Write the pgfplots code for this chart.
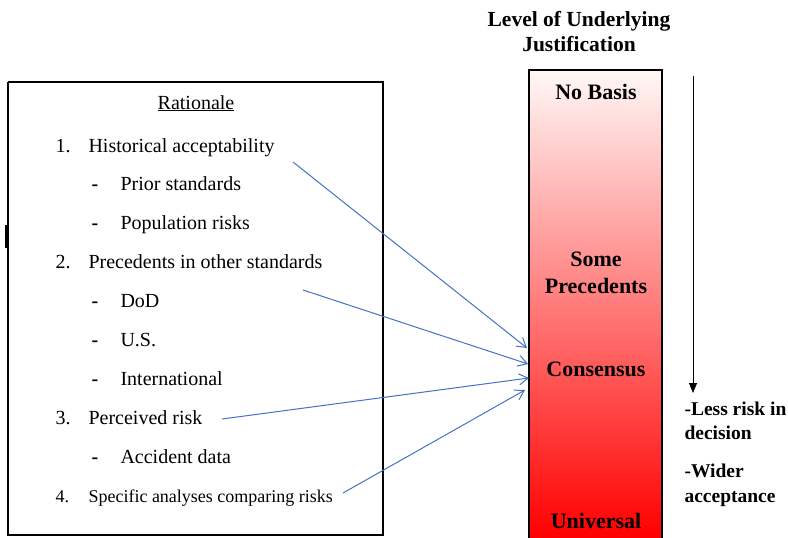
\documentclass[border=0pt]{standalone}
\usepackage{pgfplots}
\pgfplotsset{compat=1.18}
\usetikzlibrary{arrows.meta}
\usepackage{fontspec}
\setmainfont{Liberation Serif}
\definecolor{arrowblue}{RGB}{68,114,196}
\definecolor{topwhite}{RGB}{255,248,246}
\newcommand{\rg}{\fontsize{20}{24}\selectfont}
\newcommand{\sm}{\fontsize{18}{22}\selectfont}
\newcommand{\bd}{\fontsize{21.5}{24}\selectfont\bfseries}
\newcommand{\bb}{\fontsize{22}{24}\selectfont\bfseries}
\newcommand{\bs}{\fontsize{19.5}{24}\selectfont\bfseries}
\begin{document}
\begin{tikzpicture}
\begin{axis}[
  width=788pt, height=538pt, scale only axis,
  xmin=0, xmax=788, ymin=0, ymax=538, y dir=reverse,
  hide axis, clip=false,
  every node/.style={inner sep=0pt, outer sep=0pt},
]
% shaded bar
\shade[top color=topwhite, bottom color=red] (axis cs:529,70) rectangle (axis cs:662,538);
\addplot[black, line width=2.4pt] coordinates {(529,538) (529,70) (662,70) (662,538)};
% left box
\addplot[black, line width=1.8pt] coordinates {(8,82) (383,82) (383,535) (8,535) (8,82)};
\addplot[black, line width=2pt] coordinates {(6,225) (6,248)};
% black arrow
\addplot[black, line width=0.8pt, -{Triangle[length=10pt,width=8pt]}] coordinates {(693,76) (693,393)};
% blue arrows
\addplot[arrowblue, line width=1pt, -{Straight Barb[length=9pt,width=11pt]}] coordinates {(293,162) (527,348)};
\addplot[arrowblue, line width=1pt, -{Straight Barb[length=9pt,width=11pt]}] coordinates {(303,290) (528,364)};
\addplot[arrowblue, line width=1pt, -{Straight Barb[length=9pt,width=11pt]}] coordinates {(222,419) (529,378)};
\addplot[arrowblue, line width=1pt, -{Straight Barb[length=9pt,width=11pt]}] coordinates {(343,493) (525,390)};
% left text
\node[anchor=base] at (axis cs:196,109) {\rg\underline{Rationale}};
\node[anchor=base west] at (axis cs:52,152) {\rg 1.};
\node[anchor=base west] at (axis cs:85,152) {\rg Historical acceptability};
\node[anchor=base west] at (axis cs:88,190) {\rg\bfseries -};
\node[anchor=base west] at (axis cs:117,190) {\rg Prior standards};
\node[anchor=base west] at (axis cs:88,229) {\rg\bfseries -};
\node[anchor=base west] at (axis cs:117,229) {\rg Population risks};
\node[anchor=base west] at (axis cs:52,268) {\rg 2.};
\node[anchor=base west] at (axis cs:85,268) {\rg Precedents in other standards};
\node[anchor=base west] at (axis cs:88,307) {\rg\bfseries -};
\node[anchor=base west] at (axis cs:117,307) {\rg DoD};
\node[anchor=base west] at (axis cs:88,346) {\rg\bfseries -};
\node[anchor=base west] at (axis cs:117,346) {\rg U.S.};
\node[anchor=base west] at (axis cs:88,385) {\rg\bfseries -};
\node[anchor=base west] at (axis cs:117,385) {\rg International};
\node[anchor=base west] at (axis cs:52,424) {\rg 3.};
\node[anchor=base west] at (axis cs:85,424) {\rg Perceived risk};
\node[anchor=base west] at (axis cs:88,463) {\rg\bfseries -};
\node[anchor=base west] at (axis cs:117,463) {\rg Accident data};
\node[anchor=base west] at (axis cs:52,502) {\sm 4.};
\node[anchor=base west] at (axis cs:85,502) {\sm Specific analyses comparing risks};
% right text
\node[anchor=base] at (axis cs:579,27) {\bd Level of Underlying};
\node[anchor=base] at (axis cs:579,51) {\bd Justification};
\node[anchor=base] at (axis cs:596,99) {\bb No Basis};
\node[anchor=base] at (axis cs:596,266) {\bb Some};
\node[anchor=base] at (axis cs:596,293) {\bb Precedents};
\node[anchor=base] at (axis cs:596,376) {\bb Consensus};
\node[anchor=base] at (axis cs:596,528) {\bb Universal};
\node[anchor=base west] at (axis cs:681,415) {\bs -Less risk in};
\node[anchor=base west] at (axis cs:681,439) {\bs decision};
\node[anchor=base west] at (axis cs:681,477) {\bs -Wider};
\node[anchor=base west] at (axis cs:681,502) {\bs acceptance};
\end{axis}
\pgfresetboundingbox
\useasboundingbox (current axis.south west) rectangle (current axis.north east);
\end{tikzpicture}
\end{document}
